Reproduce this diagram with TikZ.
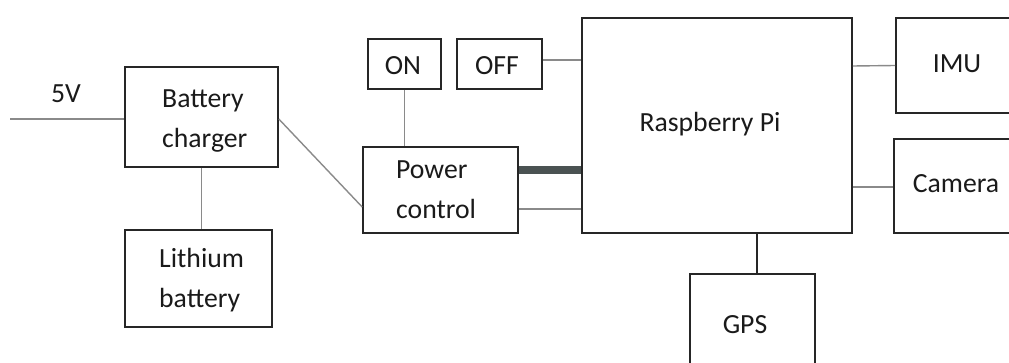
\documentclass[tikz,border=0pt]{standalone}
\usepackage{fontspec}
\setmainfont{Carlito}
\definecolor{boxc}{HTML}{262626}
\definecolor{wirec}{HTML}{8A8A8A}
\definecolor{barc}{HTML}{4A5252}
\definecolor{txtc}{HTML}{1A1A1A}
\begin{document}
\begin{tikzpicture}[x=1pt,y=-1pt,
  box/.style={draw=boxc, line width=1.6pt, inner sep=0pt},
  wire/.style={draw=wirec, line width=1.4pt},
  lbl/.style={font=\fontsize{27.7}{40}\selectfont, text=txtc, inner sep=0pt}]
\useasboundingbox (0,0) rectangle (1009,363);
\clip (0,0) rectangle (1009,363);
% boxes
\node[box, minimum width=153pt, minimum height=100pt] (bc)  at (201.5,117)   {};
\node[box, minimum width=147pt, minimum height=97pt]  (lb)  at (198.5,278.5) {};
\node[box, minimum width=155pt, minimum height=86pt]  (pc)  at (440.5,190)   {};
\node[box, minimum width=73pt,  minimum height=50pt]  (on)  at (404.5,64)    {};
\node[box, minimum width=85pt,  minimum height=50pt]  (off) at (499.5,64)    {};
\node[box, minimum width=270pt, minimum height=215pt] (rpi) at (717,125.5)   {};
\node[box, minimum width=144pt, minimum height=95pt]  (imu) at (968,65.5)    {};
\node[box, minimum width=146pt, minimum height=94pt]  (cam) at (967,186)     {};
\node[box, minimum width=125pt, minimum height=106pt] (gps) at (752.5,327)   {};
% texts (multi-line nodes: base = baseline of last line)
\node[lbl, anchor=base] (t5v) at (66,103) {5V};
\node[lbl, anchor=base west, align=left] (tbc) at (162,148) {Battery\\charger};
\node[lbl, anchor=base west, align=left] (tlb) at (159,308) {Lithium\\battery};
\node[lbl, anchor=base west, align=left] (tpc) at (396,219) {Power\\control};
\node[lbl, anchor=base] (ton)  at (403,75)  {ON};
\node[lbl, anchor=base] (toff) at (497,75)  {OFF};
\node[lbl, anchor=base] (trpi) at (710,132) {Raspberry Pi};
\node[lbl, anchor=base] (timu) at (957,73)  {IMU};
\node[lbl, anchor=base] (tcam) at (956,193) {Camera};
\node[lbl, anchor=base] (tgps) at (745,334) {GPS};
% connectors
\coordinate (in5v) at (10,119);
\draw[wire] (in5v) -- (in5v -| bc.west);
\draw[wire] (bc.south) -- (bc.south |- lb.north);
\draw[wire] ([yshift=-2pt]bc.east) -- ([yshift=-17pt]pc.west);
\draw[wire] (on.south) -- (on.south |- pc.north);
\draw[wire] ([yshift=4pt]off.east) -- ([yshift=4pt]off.east -| rpi.west);
\draw[draw=barc, line width=8.5pt] ([yshift=20pt]pc.east) -- ([yshift=20pt]pc.east -| rpi.west);
\draw[wire] ([yshift=-19pt]pc.east) -- ([yshift=-19pt]pc.east -| rpi.west);
\draw[wire] ([yshift=-0.5pt]rpi.east |- imu.west) -- (imu.west);
\draw[wire] ([yshift=-1pt]rpi.east |- cam.west) -- ([yshift=-1pt]cam.west);
\draw[draw=boxc, line width=1.6pt] (gps.north -| 757,0) -- (rpi.south -| 757,0);
\end{tikzpicture}
\end{document}
